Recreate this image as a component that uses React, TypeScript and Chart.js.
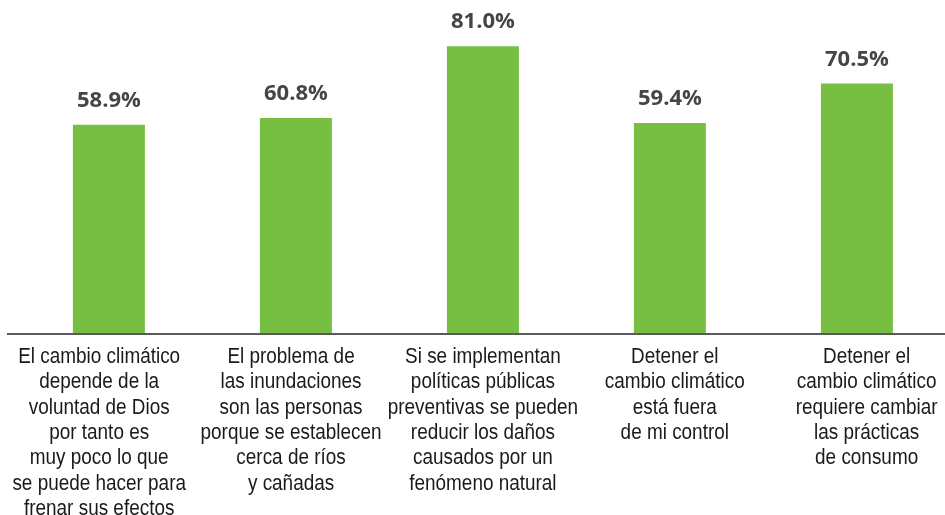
import React, { useEffect, useRef } from "react";
import { Chart, registerables } from "chart.js";

Chart.register(...registerables);

const categories: string[][] = [
  ["El cambio climático", "depende de la", "voluntad de Dios", "por tanto es", "muy poco lo que", "se puede hacer para", "frenar sus efectos"],
  ["El problema de", "las inundaciones", "son las personas", "porque se establecen", "cerca de ríos", "y cañadas"],
  ["Si se implementan", "políticas públicas", "preventivas se pueden", "reducir los daños", "causados por un", "fenómeno natural"],
  ["Detener el", "cambio climático", "está fuera", "de mi control"],
  ["Detener el", "cambio climático", "requiere cambiar", "las prácticas", "de consumo"],
];

const values: number[] = [58.9, 60.8, 81.0, 59.4, 70.5];

const valueLabels: string[] = ["58.9%", "60.8%", "81.0%", "59.4%", "70.5%"];

const yMin = 0;
const yMax = 94;

const barColor = "#77bf43";

const overlayPlugin = {
  id: "overlay",
  afterDatasetsDraw(chart: any) {
    const ctx = chart.ctx;
    const xs = chart.scales.x;
    const y0 = chart.scales.y.getPixelForValue(0);
    ctx.save();
    // baseline
    ctx.strokeStyle = "#5a5a5a";
    ctx.lineWidth = 2;
    ctx.beginPath();
    ctx.moveTo(7, y0);
    ctx.lineTo(945, y0);
    ctx.stroke();

    // value labels
    const meta = chart.getDatasetMeta(0);
    ctx.fillStyle = "#454545";
    ctx.font = 'bold 22px "Open Sans", "Noto Sans", sans-serif';
    ctx.textAlign = "center";
    ctx.textBaseline = "alphabetic";
    meta.data.forEach((bar: any, i: number) => {
      ctx.fillText(valueLabels[i], bar.x, bar.y - 18);
    });

    // category labels (condensed), spread slightly wider than the bars
    const sx = 0.86;
    const spread = 1.026;
    const mid = (xs.left + xs.right) / 2;
    ctx.fillStyle = "#1a1a1a";
    ctx.font = '22px "Liberation Sans", Arial, sans-serif';
    categories.forEach((lines, i) => {
      const cx = mid + (xs.getPixelForValue(i) - mid) * spread;
      lines.forEach((line, j) => {
        ctx.save();
        ctx.translate(cx, y0 + 29 + j * 25.3);
        ctx.scale(sx, 1);
        ctx.fillText(line, 0, 0);
        ctx.restore();
      });
    });
    ctx.restore();
  },
};

export default function App() {
  const ref = useRef<HTMLCanvasElement | null>(null);

  useEffect(() => {
    document.body.style.margin = "0";
    const canvas = ref.current;
    if (!canvas) return;
    const chart = new Chart(canvas, {
      type: "bar",
      data: {
        labels: categories,
        datasets: [
          {
            data: values,
            backgroundColor: barColor,
            borderWidth: 0,
            barPercentage: 0.385,
            categoryPercentage: 1,
          },
        ],
      },
      options: {
        animation: false,
        responsive: false,
        devicePixelRatio: 1,
        layout: { padding: { left: 15.4, right: 9.6, top: 0, bottom: 0 } },
        plugins: {
          legend: { display: false },
          tooltip: { enabled: false },
        },
        scales: {
          x: {
            grid: { display: false, drawTicks: false },
            border: { display: false },
            ticks: { display: false },
            afterFit: (scale: any) => {
              scale.height = 181;
              scale.paddingLeft = 0;
              scale.paddingRight = 0;
            },
          },
          y: {
            display: false,
            min: yMin,
            max: yMax,
          },
        },
      },
      plugins: [overlayPlugin],
    });
    return () => chart.destroy();
  }, []);

  return (
    <div style={{ width: 945, height: 515, overflow: "hidden", position: "relative" }}>
      <canvas ref={ref} width={960} height={515} style={{ width: 960, height: 515, display: "block" }} />
    </div>
  );
}
